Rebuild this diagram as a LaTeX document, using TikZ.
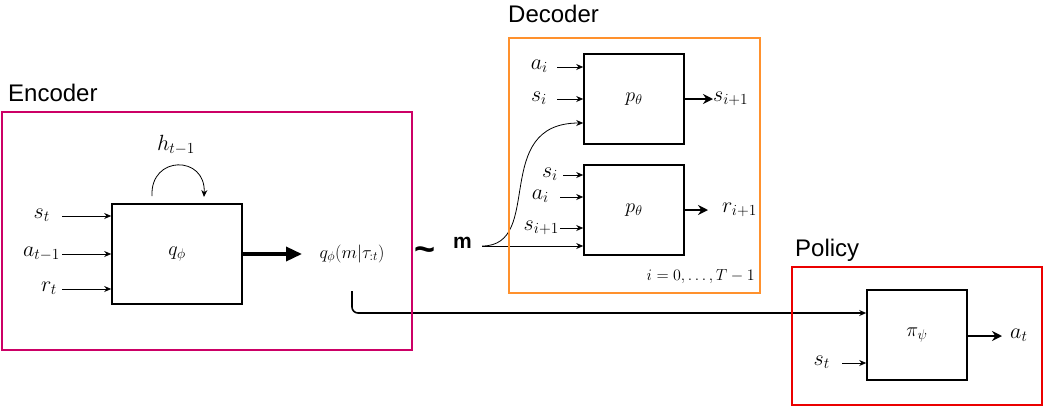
\RequirePackage{fix-cm}
\documentclass[tikz,border=0pt]{standalone}
\usepackage{fontspec}
\setsansfont{Liberation Sans}
\usetikzlibrary{arrows.meta}
\definecolor{encpink}{RGB}{204,0,102}
\definecolor{decorange}{RGB}{255,145,45}
\definecolor{polred}{RGB}{235,0,0}

\begin{document}
\begin{tikzpicture}[x=1pt,y=-1pt,
    block/.style={draw, line width=1.6pt, minimum width=100pt, minimum height=90pt, inner sep=0pt, font=\fontsize{20}{22}\selectfont},
    invar/.style={anchor=mid east, inner sep=0pt, font=\fontsize{22}{24}\selectfont},
    outvar/.style={anchor=mid west, inner sep=0pt, font=\fontsize{22}{24}\selectfont},
    title/.style={anchor=base west, inner sep=0pt, font=\sffamily\fontsize{24}{26}\selectfont},
    thin/.style={-{Stealth[length=7pt,width=6pt]}, line width=0.8pt},
    thick/.style={-{Stealth[length=10pt,width=10pt]}, line width=2pt}]
    \useasboundingbox (0,0) rectangle (1047,408);

    % encoder
    \node[block, minimum width=130pt, minimum height=100pt] (enc) at (177,254) {$q_\phi$};
    \node[invar] (st) at (50,216) {$s_t$};
    \node[invar] (at1) at (60,254) {$a_{t-1}$};
    \node[invar] (rt) at (57,289) {$r_t$};
    \draw[thin] ([xshift=12pt]st.mid east) -- (enc.west |- st.mid east);
    \draw[thin] ([xshift=2pt]at1.mid east) -- (enc.west |- at1.mid east);
    \draw[thin] ([xshift=5pt]rt.mid east) -- (enc.west |- rt.mid east);
    \node[font=\fontsize{22}{24}\selectfont] (ht) at (176,145) {$h_{t-1}$};
    \coordinate (hout) at (152,196);
    \coordinate (hin) at (204,197);
    \draw[thin] (hout) .. controls (150,155) and (206,155) .. (hin);
    \node[font=\fontsize{18}{20}\selectfont] (post) at (352,254) {$q_\phi(m|\tau_{:t})$};
    \draw[-{Triangle[length=16pt,width=14pt]}, line width=3.5pt] (enc.east) -- (302,254);

    % decoder
    \node[block] (dec1) at (634,99) {$p_\theta$};
    \node[block] (dec2) at (634,210) {$p_\theta$};
    \node[font=\sffamily\bfseries\fontsize{36}{38}\selectfont, inner sep=0pt] (tilde) at (425,254) {\textasciitilde};
    \node[font=\sffamily\bfseries\fontsize{21}{23}\selectfont, inner sep=0pt, anchor=mid west] (m) at (453,246) {m};
    \node[invar] (ai1) at (548,67) {$a_i$};
    \node[invar] (si1) at (547,99) {$s_i$};
    \draw[thin] ([xshift=9pt]ai1.mid east) -- (dec1.west |- ai1.mid east);
    \draw[thin] ([xshift=10pt]si1.mid east) -- (dec1.west |- si1.mid east);
    \draw[thin] ([xshift=10pt]m.mid east) .. controls (545,246) and (490,123) .. (dec1.west |- 0,123);
    \draw[thin] ([xshift=10pt]m.mid east) -- (dec2.west |- m.mid east);
    \node[outvar] (snext) at (713,99) {$s_{i+1}$};
    \draw[thick] (dec1.east |- snext.mid west) -- (snext.mid west);
    \node[invar] (si2) at (558,175) {$s_i$};
    \node[invar] (ai2) at (549,197) {$a_i$};
    \node[invar] (sn2) at (559,228) {$s_{i+1}$};
    \draw[thin] ([xshift=5pt]si2.mid east) -- (dec2.west |- si2.mid east);
    \draw[thin] ([xshift=11pt]ai2.mid east) -- (dec2.west |- ai2.mid east);
    \draw[thin] ([xshift=1pt]sn2.mid east) -- (dec2.west |- sn2.mid east);
    \node[outvar] (rnext) at (722,210) {$r_{i+1}$};
    \draw[thick] (dec2.east |- rnext.mid west) -- ([xshift=-14pt]rnext.mid west);
    \node[anchor=mid east, inner sep=0pt, font=\fontsize{16}{18}\selectfont] (idx) at (755,278) {$i=0,\ldots,T-1$};

    % policy
    \node[block] (pol) at (917,335) {$\pi_\psi$};
    \node[invar] (st2) at (830,363) {$s_t$};
    \draw[thin] ([xshift=12pt]st2.mid east) -- (pol.west |- st2.mid east);
    \node[outvar] (act) at (1010,336) {$a_t$};
    \draw[thick] (pol.east |- act.mid west) -- ([xshift=-8pt]act.mid west);
    \draw[thin, line width=1.6pt, rounded corners=6pt] (post.south |- 0,291) -- (352,313) -- (pol.west |- 0,313);

    % frames
    \draw[encpink, line width=2.5pt] (2,112) rectangle (412,350);
    \node[title] (enctitle) at (8,101) {Encoder};
    \draw[decorange, line width=2.5pt] (509,38) rectangle (760,293);
    \node[title] (dectitle) at (508,22) {Decoder};
    \draw[polred, line width=2.5pt] (792,267) rectangle (1042,405);
    \node[title] (poltitle) at (795,256) {Policy};
\end{tikzpicture}
\end{document}
